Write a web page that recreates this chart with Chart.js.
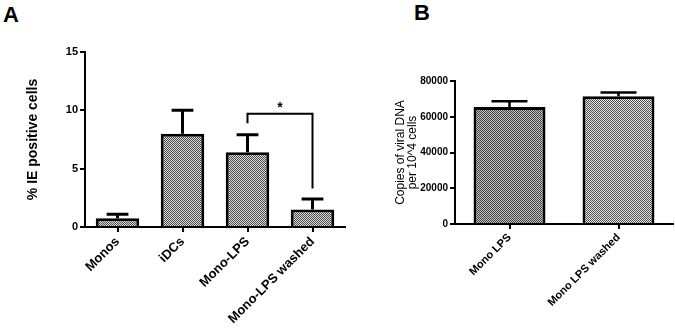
<!DOCTYPE html>
<html>
<head>
<meta charset="utf-8">
<script src="https://cdn.jsdelivr.net/npm/chart.js@4.4.1/dist/chart.umd.min.js"></script>
<style>
body { margin: 0; background: #fff; width: 675px; height: 330px; overflow: hidden; position: relative; font-family: 'Liberation Sans', Arial, sans-serif; }
canvas { position: absolute; top: 0; }
#chartA { left: 0; }
#chartB { left: 348px; }
.panel { position: absolute; font-weight: bold; font-size: 22px; line-height: 22px; color: #000; }
</style>
</head>
<body>
<div class="panel" style="left:3px;top:4px">A</div>
<div class="panel" style="left:414px;top:2px">B</div>
<canvas id="chartA" width="348" height="330"></canvas>
<canvas id="chartB" width="327" height="330"></canvas>
<script>
// panel A data
const labelsA = ['Monos', 'iDCs', 'Mono-LPS', 'Mono-LPS washed'];
const meansA = [0.75, 8.0, 6.4, 1.5];
const errorsA = [0.35, 2.0, 1.5, 0.9];
// significance bracket between Mono-LPS and Mono-LPS washed
const bracketA = { from: 2, to: 3, top: 9.7, leftEnd: 8.9, rightEnd: 3.3, starAt: 10.4, text: '*' };

// panel B data
const labelsB = ['Mono LPS', 'Mono LPS washed'];
const meansB = [65500, 71500];
const errorsB = [3200, 2000];

const FONT = "'Liberation Sans', Arial, sans-serif";

function makePattern(dark, light) {
    const c = document.createElement('canvas');
    c.width = 2; c.height = 2;
    const g = c.getContext('2d');
    g.fillStyle = light; g.fillRect(0, 0, 2, 2);
    g.fillStyle = dark; g.fillRect(0, 0, 1, 1); g.fillRect(1, 1, 1, 1);
    return g.createPattern(c, 'repeat');
}

// draws mean + SEM style error bars (upper half only) from the errors array
const errorBars = {
    id: 'errorBars',
    afterDatasetsDraw(chart, args, opts) {
        const ctx = chart.ctx;
        const meta = chart.getDatasetMeta(0);
        const y = chart.scales.y;
        ctx.save();
        ctx.strokeStyle = '#000';
        ctx.lineWidth = opts.lineWidth || 2.5;
        meta.data.forEach((bar, i) => {
            const v = chart.data.datasets[0].data[i];
            const e = opts.errors[i];
            const y0 = y.getPixelForValue(v);
            const y1 = y.getPixelForValue(v + e);
            const half = bar.width / 4;
            ctx.beginPath();
            ctx.moveTo(bar.x, y0);
            ctx.lineTo(bar.x, y1);
            ctx.moveTo(bar.x - half, y1);
            ctx.lineTo(bar.x + half, y1);
            ctx.stroke();
        });
        ctx.restore();
    }
};

const bracket = {
    id: 'bracket',
    afterDatasetsDraw(chart, args, b) {
        if (!b || b.from === undefined) return;
        const ctx = chart.ctx;
        const x = chart.scales.x, y = chart.scales.y;
        const x1 = x.getPixelForValue(b.from), x2 = x.getPixelForValue(b.to);
        ctx.save();
        ctx.strokeStyle = '#000';
        ctx.lineWidth = 2;
        ctx.beginPath();
        ctx.moveTo(x1, y.getPixelForValue(b.leftEnd));
        ctx.lineTo(x1, y.getPixelForValue(b.top));
        ctx.lineTo(x2, y.getPixelForValue(b.top));
        ctx.lineTo(x2, y.getPixelForValue(b.rightEnd));
        ctx.stroke();
        ctx.fillStyle = '#000';
        ctx.font = 'bold 14px ' + FONT;
        ctx.textAlign = 'center';
        ctx.textBaseline = 'middle';
        ctx.fillText(b.text, (x1 + x2) / 2, y.getPixelForValue(b.starAt) + 2);
        ctx.restore();
    }
};

function makeChart(canvasID, cfg) {
    const ctx = document.getElementById(canvasID).getContext('2d');
    return new Chart(ctx, {
        type: 'bar',
        data: {
            labels: cfg.labels,
            datasets: [{
                data: cfg.means,
                backgroundColor: cfg.fills,
                borderColor: '#000',
                borderWidth: 3,
                borderSkipped: 'bottom',
                categoryPercentage: 1,
                barPercentage: cfg.barPct
            }]
        },
        options: {
            responsive: false,
            animation: false,
            layout: { padding: cfg.padding },
            plugins: {
                legend: { display: false },
                tooltip: { enabled: false },
                errorBars: { errors: cfg.errors, lineWidth: cfg.errLine },
                bracket: cfg.bracket || {}
            },
            scales: {
                x: {
                    grid: { display: true, offset: false, drawOnChartArea: false, tickLength: 5, color: '#000', lineWidth: 2 },
                    border: { display: true, color: '#000', width: 2 },
                    ticks: {
                        autoSkip: false, minRotation: 45, maxRotation: 45, padding: 2,
                        color: '#000', font: { family: FONT, size: cfg.xFont, weight: 'bold' }
                    },
                    afterFit(scale) { scale.height = cfg.xHeight; }
                },
                y: {
                    min: 0,
                    max: cfg.yMax,
                    grid: { display: true, drawOnChartArea: false, tickLength: 5, color: '#000', lineWidth: 2 },
                    border: { display: true, color: '#000', width: 2 },
                    ticks: {
                        stepSize: cfg.yStep, padding: 2, color: '#000',
                        font: { family: FONT, size: cfg.yFont, weight: 'bold' },
                        callback: v => String(v)
                    },
                    title: {
                        display: true,
                        text: cfg.yTitle,
                        color: '#000',
                        font: cfg.titleFont,
                        padding: { top: cfg.titlePad, bottom: 0 }
                    },
                    afterFit(scale) { scale.width = cfg.yWidth; }
                }
            }
        },
        plugins: [errorBars, bracket]
    });
}

const fillA = makePattern('#4a4a4a', '#dcdcdc');

makeChart('chartA', {
    labels: labelsA,
    means: meansA,
    errors: errorsA,
    fills: labelsA.map(() => fillA),
    barPct: 0.67,
    padding: { top: 52, right: 3, left: 0, bottom: 0 },
    xHeight: 103,
    yWidth: 85,
    yMax: 15,
    yStep: 5,
    xFont: 13,
    yFont: 11,
    yTitle: '% IE positive cells',
    titleFont: { family: FONT, size: 14, weight: 'bold' },
    titlePad: 24.6,
    errLine: 3,
    bracket: bracketA
});

makeChart('chartB', {
    labels: labelsB,
    means: meansB,
    errors: errorsB,
    fills: [makePattern('#404040', '#c4c4c4'), makePattern('#505050', '#e6e6e6')],
    barPct: 0.66,
    padding: { top: 81, right: 2, left: 0, bottom: 0 },
    xHeight: 106,
    yWidth: 107,
    yMax: 80000,
    yStep: 20000,
    xFont: 11,
    yFont: 10,
    yTitle: ['Copies of viral DNA', 'per 10^4 cells'],
    titleFont: { family: FONT, size: 12, lineHeight: 1.0 },
    titlePad: 46.5,
    errLine: 2.5
});
</script>
</body>
</html>
